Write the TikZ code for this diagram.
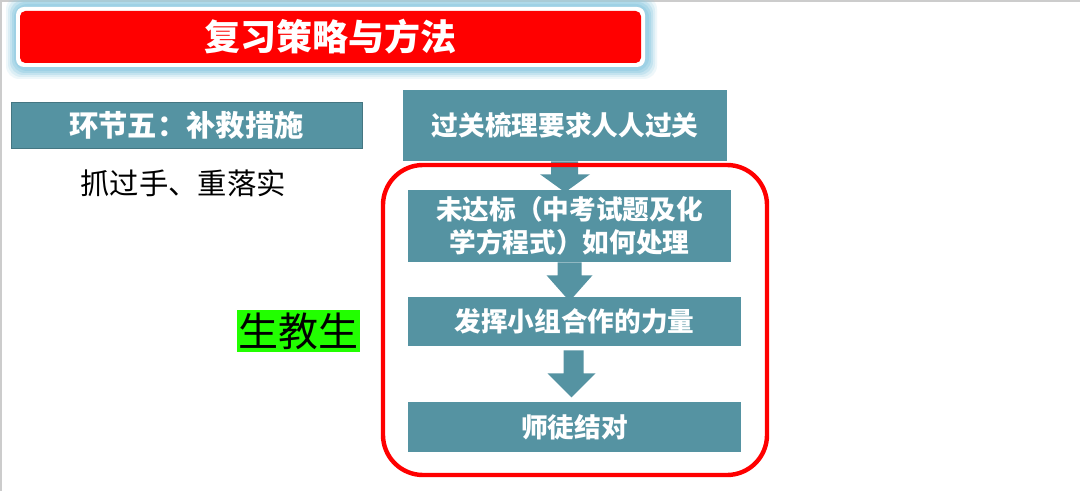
\documentclass[tikz,border=0pt]{standalone}
\usepackage{fontspec}
\newfontfamily\cjk{Noto Sans CJK SC}
\usetikzlibrary{calc}
\definecolor{tealbox}{HTML}{5593A2}
\definecolor{titlered}{HTML}{FF0000}
\definecolor{glowblue}{HTML}{8FCBE2}
\definecolor{greenbg}{HTML}{22FF00}
\tikzset{
  stepbox/.style={fill=tealbox, text=white, font=\cjk\bfseries\fontsize{20pt}{25pt}\selectfont, align=center, inner sep=0pt},
  blockarrow/.style={fill=tealbox},
}
\begin{document}
\begin{tikzpicture}[x=0.75pt,y=-0.75pt]
\useasboundingbox (0,0) rectangle (1080,491);
\fill[white] (0,0) rectangle (1080,491);
\draw[black!20, line width=1.2pt] (0,0.8) -- (1080,0.8);
\draw[black!20, line width=1pt] (1,0) -- (1,491);
% title glow
\foreach \i/\o in {8/0.15,6/0.2,4/0.3,2/0.4,0/0.5}{
  \fill[glowblue, opacity=\o, rounded corners=10pt] (14-\i,4-\i) rectangle (649+\i,71+\i);
}
\fill[white, rounded corners=6pt] (16,7) rectangle (645,67);
\node[fill=titlered, rounded corners=4pt, minimum width=465.75pt, minimum height=39pt, inner sep=0pt,
      text=white, font=\cjk\bfseries\fontsize{27pt}{30pt}\selectfont] (title) at (330.5,37) {复习策略与方法};
% left side
\node[stepbox, draw=tealbox!80!black, line width=0.4pt, minimum width=263.25pt, minimum height=34.5pt,
      font=\cjk\bfseries\fontsize{22pt}{26pt}\selectfont] (stage) at (186.5,125) {环节五：补救措施};
\node[font=\cjk\fontsize{22pt}{26pt}\selectfont, text=black] (grasp) at (183,183) {抓过手、重落实};
\node[fill=greenbg, minimum width=92.25pt, minimum height=31.5pt, inner sep=0pt,
      font=\cjk\fontsize{30pt}{32pt}\selectfont, text=black] (peer) at (298.5,331) {生教生};
% flow boxes
\node[stepbox, minimum width=243pt, minimum height=53.25pt] (b1) at (565,125.5) {过关梳理要求人人过关};
\node[stepbox, minimum width=242.25pt, minimum height=54pt] (b2) at (569.5,226) {未达标（中考试题及化\\学方程式）如何处理};
\node[stepbox, minimum width=249.75pt, minimum height=36.75pt] (b3) at (574.5,321.5) {发挥小组合作的力量};
\node[stepbox, minimum width=249.75pt, minimum height=37.5pt] (b4) at (574.5,427) {师徒结对};
% block arrows
\fill[blockarrow] ($(b1.south)+(-14,0)$) -- ($(b1.south)+(13,0)$) -- ($(b1.south)+(13,13)$) -- ($(b1.south)+(25,13)$)
  -- ($(b1.south)+(0,31)$) -- ($(b1.south)+(-25,13)$) -- ($(b1.south)+(-14,13)$) -- cycle;
\fill[blockarrow] ($(b2.south)+(-12,0)$) -- ($(b2.south)+(12,0)$) -- ($(b2.south)+(12,13)$) -- ($(b2.south)+(23,13)$)
  -- ($(b2.south)+(0,39)$) -- ($(b2.south)+(-23,13)$) -- ($(b2.south)+(-12,13)$) -- cycle;
\fill[blockarrow] ($(b3.south)+(-11,4)$) -- ($(b3.south)+(9,4)$) -- ($(b3.south)+(9,27)$) -- ($(b3.south)+(21,27)$)
  -- ($(b3.south)+(-3,51)$) -- ($(b3.south)+(-27,27)$) -- ($(b3.south)+(-11,27)$) -- cycle;
% red frame
\node[draw=titlered, line width=3.3pt, rounded corners=30pt, minimum width=288pt, minimum height=232.5pt,
      inner sep=0pt] (frame) at (575,320) {};
\end{tikzpicture}
\end{document}
